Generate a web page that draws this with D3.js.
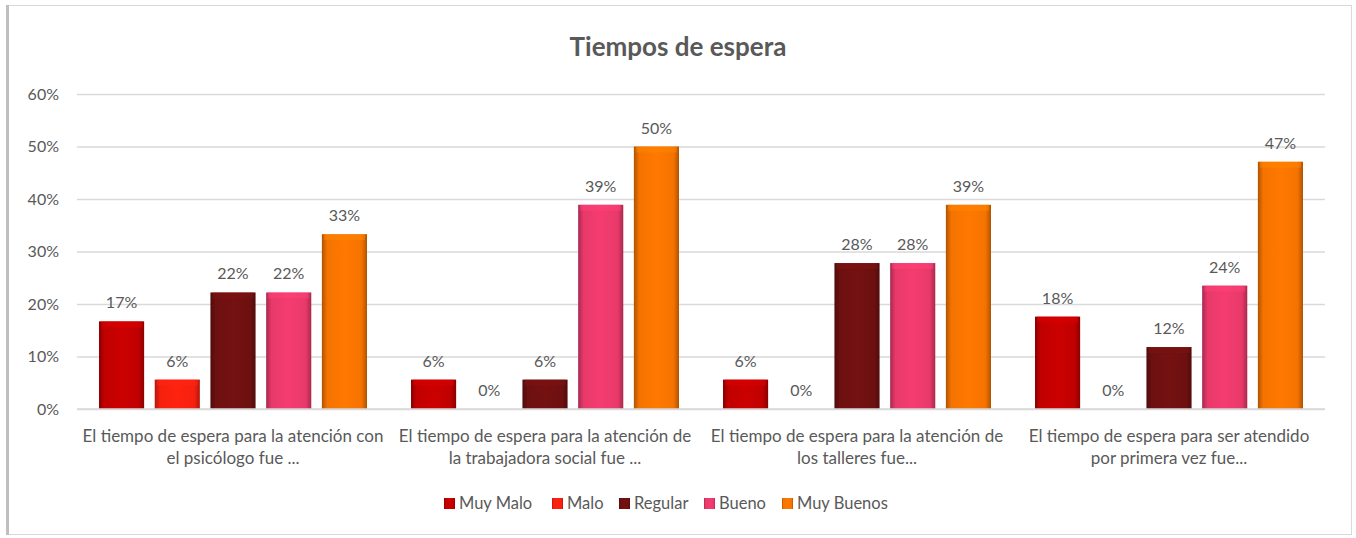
<!DOCTYPE html>
<html lang="en">
<head>
<meta charset="utf-8">
<title>Tiempos de espera</title>
<script src="https://cdnjs.cloudflare.com/ajax/libs/d3/7.8.5/d3.min.js"></script>
<style>
  body { margin: 0; background: #fff; }
  svg text { font-family: Lato, "Open Sans", sans-serif; fill: #595959; }
  .grid line { stroke: #d9d9d9; stroke-width: 1.3; }
  .grid path { display: none; }
</style>
</head>
<body>
<script>
// chart data
var categories = [
  ["El tiempo de espera para la atención con", "el psicólogo fue ..."],
  ["El tiempo de espera para la atención de", "la trabajadora social fue ..."],
  ["El tiempo de espera para la atención de", "los talleres fue..."],
  ["El tiempo de espera para ser atendido", "por primera vez fue..."]
];
var seriesNames = ["Muy Malo", "Malo", "Regular", "Bueno", "Muy Buenos"];
var muyMalo   = [16.7, 5.6, 5.6, 17.6];
var malo      = [5.6, 0, 0, 0];
var regular   = [22.2, 5.6, 27.8, 11.8];
var bueno     = [22.2, 38.9, 27.8, 23.5];
var muyBuenos = [33.3, 50.0, 38.9, 47.1];
var yTicks = [0, 10, 20, 30, 40, 50, 60];
var colors = ["#c00000", "#f5200f", "#6e1010", "#e8396a", "#f47300"];

var series = [muyMalo, malo, regular, bueno, muyBuenos];

var W = 1356, H = 538;
var margin = {top: 94, right: 31, bottom: 129, left: 77};
var width = W - margin.left - margin.right,
    height = H - margin.top - margin.bottom;

var svg = d3.select("body").append("svg")
  .attr("width", W)
  .attr("height", H);

// gradients to give the bevelled look
var defs = svg.append("defs");
colors.forEach(function(c, i) {
  var g = defs.append("linearGradient").attr("id", "grad" + i)
    .attr("x1", "0%").attr("x2", "100%").attr("y1", "0%").attr("y2", "0%");
  var dark = d3.color(c).darker(0.9), light = d3.color(c).brighter(0.15);
  g.append("stop").attr("offset", "0%").attr("stop-color", dark);
  g.append("stop").attr("offset", "12%").attr("stop-color", c);
  g.append("stop").attr("offset", "50%").attr("stop-color", light);
  g.append("stop").attr("offset", "88%").attr("stop-color", c);
  g.append("stop").attr("offset", "100%").attr("stop-color", dark);
});

// outer frame
svg.append("rect")
  .attr("x", 7.5).attr("y", 5.5)
  .attr("width", W - 12).attr("height", H - 9)
  .attr("fill", "#fff").attr("stroke", "#d9d9d9").attr("stroke-width", 1);
svg.append("line")
  .attr("x1", 7.5).attr("x2", 7.5).attr("y1", 5).attr("y2", H - 3)
  .attr("stroke", "#bfbfbf").attr("stroke-width", 3);

svg.append("text")
  .attr("x", 678).attr("y", 56)
  .attr("text-anchor", "middle")
  .style("font-size", "26px").style("font-weight", "bold")
  .text("Tiempos de espera");

var g = svg.append("g")
  .attr("transform", "translate(" + margin.left + "," + margin.top + ")");

var x0 = d3.scaleBand().domain(d3.range(categories.length)).range([0, width]);
var x1 = d3.scaleBand().domain(d3.range(seriesNames.length))
  .range([22, x0.bandwidth() - 22]).paddingInner(0.19);
var y = d3.scaleLinear().domain([0, 60]).range([height, 0]);

g.append("g").attr("class", "grid")
  .call(d3.axisLeft(y).tickValues(yTicks).tickSize(-width).tickFormat(""));

g.selectAll(".ylab").data(yTicks).enter().append("text")
  .attr("x", -18).attr("y", function(d) { return y(d) + 5.5; })
  .attr("text-anchor", "end")
  .style("font-size", "16px")
  .text(function(d) { return d + "%"; });

var groups = g.selectAll(".grp").data(categories).enter().append("g")
  .attr("transform", function(d, i) { return "translate(" + x0(i) + ",0)"; });

groups.each(function(cat, ci) {
  var sel = d3.select(this);
  series.forEach(function(s, si) {
    var v = s[ci];
    if (v > 0) {
      sel.append("rect")
        .attr("x", x1(si)).attr("width", x1.bandwidth())
        .attr("y", y(v)).attr("height", y(0) - y(v))
        .attr("fill", "url(#grad" + si + ")");
      sel.append("rect")
        .attr("x", x1(si) + 2).attr("width", x1.bandwidth() - 4)
        .attr("y", y(v)).attr("height", 6)
        .attr("fill", d3.color(colors[si]).brighter(0.4)).attr("opacity", 0.5);
    }
    sel.append("text")
      .attr("x", x1(si) + x1.bandwidth() / 2)
      .attr("y", y(v) - 13)
      .attr("text-anchor", "middle")
      .style("font-size", "16px")
      .text(Math.round(v) + "%");
  });
});

// baseline
g.append("line")
  .attr("x1", 0).attr("x2", width).attr("y1", y(0)).attr("y2", y(0))
  .attr("stroke", "#d9d9d9").attr("stroke-width", 1.3);

// category labels
groups.append("text")
  .attr("x", x0.bandwidth() / 2)
  .attr("text-anchor", "middle")
  .style("font-size", "17px")
  .selectAll("tspan").data(function(d) { return d; }).enter().append("tspan")
  .attr("x", x0.bandwidth() / 2)
  .attr("y", function(d, i) { return height + 33 + i * 22; })
  .text(function(d) { return d; });

// legend
var legendX = [444, 552, 619, 704, 782];
var legend = svg.append("g").selectAll("g").data(seriesNames).enter().append("g")
  .attr("transform", function(d, i) { return "translate(" + legendX[i] + ",509)"; });
legend.append("rect")
  .attr("x", 0).attr("y", -11).attr("width", 11).attr("height", 11)
  .attr("fill", function(d, i) { return "url(#grad" + i + ")"; });
legend.append("text")
  .attr("x", 15).attr("y", 0)
  .style("font-size", "16.5px")
  .text(function(d) { return d; });
</script>
</body>
</html>
